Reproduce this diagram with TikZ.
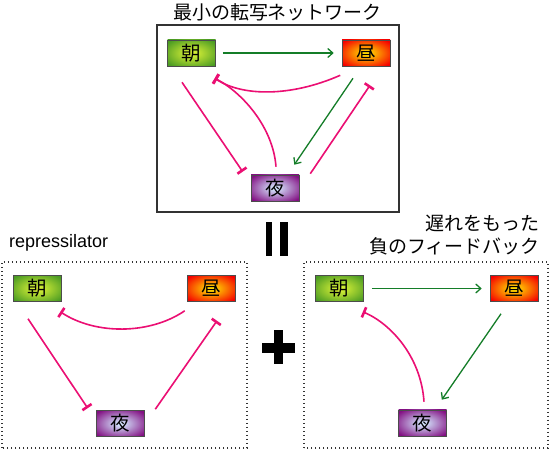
\documentclass[tikz,border=0pt]{standalone}
\usepackage{fontspec}
\setmainfont{Liberation Sans}
\newfontfamily\jpfont{Noto Sans CJK JP}
\usetikzlibrary{arrows.meta}
\definecolor{asaIn}{RGB}{215,240,55}
\definecolor{asaOut}{RGB}{75,155,35}
\definecolor{hiruIn}{RGB}{255,215,0}
\definecolor{hiruOut}{RGB}{245,0,0}
\definecolor{yoruIn}{RGB}{210,225,250}
\definecolor{yoruOut}{RGB}{130,15,130}
\definecolor{actColor}{RGB}{20,125,40}
\definecolor{inhColor}{RGB}{235,15,115}
\pgfdeclareradialshading{asaglow}{\pgfpoint{0bp}{0bp}}{color(0bp)=(asaIn); color(3bp)=(asaIn); color(32bp)=(asaOut); color(50bp)=(asaOut)}
\pgfdeclareradialshading{hiruglow}{\pgfpoint{0bp}{0bp}}{color(0bp)=(hiruIn); color(3bp)=(hiruIn); color(32bp)=(hiruOut); color(50bp)=(hiruOut)}
\pgfdeclareradialshading{yoruglow}{\pgfpoint{0bp}{0bp}}{color(0bp)=(yoruIn); color(3bp)=(yoruIn); color(32bp)=(yoruOut); color(50bp)=(yoruOut)}

\begin{document}
\begin{tikzpicture}[x=1pt,y=1pt,
  daybox/.style={draw=black!70,line width=0.6pt,minimum width=48pt,minimum height=26pt,
    inner sep=0pt,font=\jpfont\fontsize{19.5}{19.5}\selectfont},
  asabox/.style={daybox,shading=asaglow},
  hirubox/.style={daybox,shading=hiruglow},
  yorubox/.style={daybox,shading=yoruglow},
  act/.style={draw=actColor,line width=1.3pt,-{Straight Barb[length=5pt,width=9pt]}},
  inh/.style={draw=inhColor,line width=1.6pt,-{Bar[width=11pt,line width=2.6pt]}},
  dotframe/.style={draw=black!80,line width=1.3pt,dash pattern=on 1.3pt off 2.7pt},
  caption/.style={inner sep=0pt,font=\jpfont\fontsize{19}{19}\selectfont}]
\path[use as bounding box,fill=white] (0,0) rectangle (550,450);

% minimal network
\node[caption] (titleT) at (277.5,438) {最小の転写ネットワーク};
\path[draw=black!80,line width=1.2pt] (157,238) rectangle (399,425);
\node[asabox] (asaT) at (191.5,397) {朝};
\node[hirubox] (hiruT) at (366,397) {昼};
\node[yorubox] (yoruT) at (275,262) {夜};

\path[act,shorten <=7pt,shorten >=8pt] (asaT.east) -- (hiruT.west);
\path[act] ([shift={(-13,-12)}]hiruT.south) -- ([shift={(-5,10)}]yoruT.north east);
\path[inh] ([shift={(-1.5,-9)}]hiruT.south west) .. controls +(-50,-22) and +(27,-18) ..
	([shift={(-1,-12)}]asaT.south east);
\path[inh] ([shift={(1,8)}]yoruT.north) .. controls +(-3,40) and +(27,-14) ..
	([shift={(-1,-12)}]asaT.south east);
\path[inh] ([shift={(-9.5,-16)}]asaT.south) -- ([shift={(-8,3)}]yoruT.north west);
\path[inh] ([shift={(11,1)}]yoruT.north east) -- ([shift={(4,-19)}]hiruT.south);

% equals and plus
\path[fill=black] (266,194) rectangle (272,228);
\path[fill=black] (280,194) rectangle (288,228);
\path[fill=black] (262,96.7) rectangle (295,107.3);
\path[fill=black] (274,85.7) rectangle (282.7,120);

% repressilator
\node[anchor=base west,inner sep=0pt,font=\fontsize{18}{18}\selectfont] (titleL) at (9,202) {repressilator};
\path[dotframe] (2,2) rectangle (247,188);
\node[asabox] (asaL) at (37,161.5) {朝};
\node[hirubox] (hiruL) at (211,161.5) {昼};
\node[yorubox] (yoruL) at (120,26.5) {夜};

\path[inh] ([shift={(-2,-9)}]hiruL.south west) .. controls +(-35,-24) and +(35,-23) ..
	([shift={(-1,-10)}]asaL.south east);
\path[inh] ([shift={(-9,-17)}]asaL.south) -- ([shift={(-8,2)}]yoruL.north west);
\path[inh] ([shift={(11,1)}]yoruL.north east) -- ([shift={(6,-19)}]hiruL.south);

% delayed negative feedback
\node[caption,anchor=east] (titleR1) at (540,226.5) {遅れをもった};
\node[caption,anchor=east] (titleR2) at (540,203.3) {負のフィードバック};
\path[dotframe] (304,2) rectangle (548,188);
\node[asabox] (asaR) at (339.5,161.5) {朝};
\node[hirubox] (hiruR) at (514,161.5) {昼};
\node[yorubox] (yoruR) at (422.5,27) {夜};

\path[act,shorten <=8pt,shorten >=8pt] (asaR.east) -- (hiruR.west);
\path[act] ([shift={(-13,-12)}]hiruR.south) -- ([shift={(-5,10)}]yoruR.north east);
\path[inh] ([shift={(1.5,8)}]yoruR.north) .. controls +(-3,45) and +(28,-12) ..
	([shift={(-1,-10)}]asaR.south east);
\end{tikzpicture}
\end{document}
